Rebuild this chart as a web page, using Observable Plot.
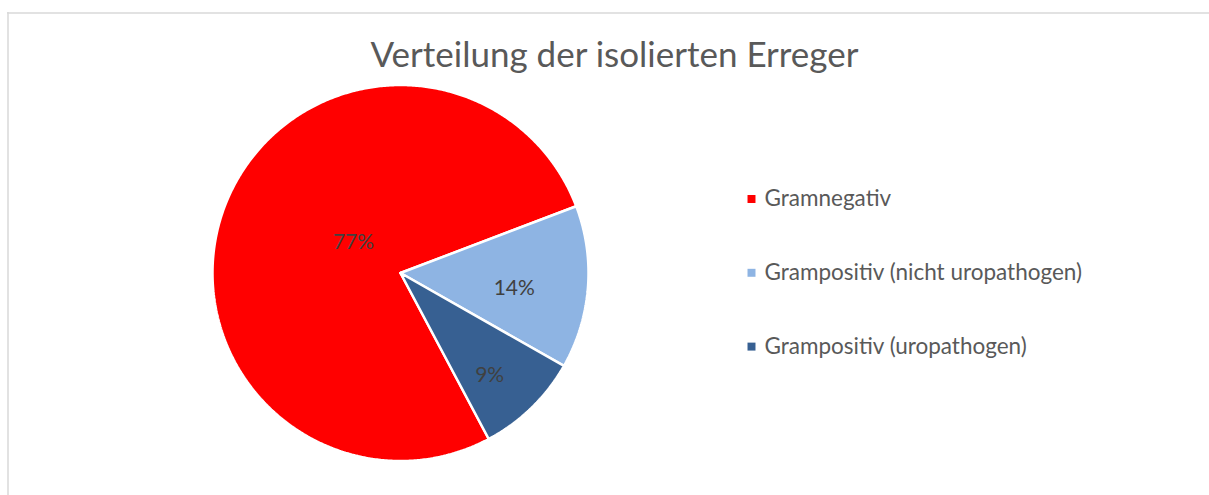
<!DOCTYPE html>
<html>
<head>
<meta charset="utf-8">
<script src="https://cdn.jsdelivr.net/npm/d3@7"></script>
<script src="https://cdn.jsdelivr.net/npm/@observablehq/plot@0.6"></script>
<style>
  html, body { margin: 0; padding: 0; background: #ffffff; }
  #chart svg { display: block; }
</style>
</head>
<body>
<div id="chart"></div>
<script>
// ---- data ----
const title = "Verteilung der isolierten Erreger";
const categories = ["Gramnegativ", "Grampositiv (nicht uropathogen)", "Grampositiv (uropathogen)"];
const values = [77, 14, 9];
const valueLabels = ["77%", "14%", "9%"];
const colors = ["#FF0000", "#8EB4E3", "#376092"];

// ---- layout ----
const W = 1209, H = 495;
const cx = 400, cy = 272.5, R = 188;
const startDeg = 152;                  // first-slice angle (clockwise from 12 o'clock)
const labelRadius = [0.30, 0.61, 0.72];
const labelShift = [13, 3, 3];         // degrees, Excel "best fit" nudge
const legendX = 751, legendTextX = 764, legendY0 = 198.5, legendGap = 73.8;
const font = "Lato, 'Open Sans', sans-serif";

const total = d3.sum(values);
const rad = d => d * Math.PI / 180;
const px = (a, r) => cx + r * Math.sin(rad(a));
const py = (a, r) => cy - r * Math.cos(rad(a));

// slice polygons
const slicePts = [];
const labelPts = [];
let a = startDeg;
values.forEach((v, i) => {
  const span = v / total * 360;
  const a0 = a, a1 = a + span;
  slicePts.push({cat: categories[i], x: cx, y: cy});
  const n = Math.max(2, Math.ceil(span / 0.5));
  for (let k = 0; k <= n; k++) {
    const t = a0 + (a1 - a0) * k / n;
    slicePts.push({cat: categories[i], x: px(t, R), y: py(t, R)});
  }
  slicePts.push({cat: categories[i], x: cx, y: cy});
  const mid = (a0 + a1) / 2 + labelShift[i];
  labelPts.push({label: valueLabels[i], x: px(mid, R * labelRadius[i]), y: py(mid, R * labelRadius[i])});
  a = a1;
});

const legendRows = categories.map((c, i) => ({cat: c, y: legendY0 + i * legendGap}));

const chart = Plot.plot({
  width: W,
  height: H,
  margin: 0,
  x: {domain: [0, W], axis: null},
  y: {domain: [H, 0], axis: null},
  color: {domain: categories, range: colors},
  style: {fontFamily: font, background: "#ffffff"},
  marks: [
    // chart-area border (top and left visible)
    Plot.ruleY([12.5], {x1: 7, x2: W, stroke: "#D9D9D9", strokeWidth: 1.5}),
    Plot.ruleX([7.5], {y1: 12, y2: H, stroke: "#D9D9D9", strokeWidth: 1.5}),
    // pie slices
    Plot.line(slicePts, {x: "x", y: "y", z: "cat", fill: "cat", stroke: "#ffffff", strokeWidth: 2.5, strokeLinejoin: "miter"}),
    // data labels
    Plot.text(labelPts, {x: "x", y: "y", text: "label", fill: "#404040", fontSize: 21, textAnchor: "middle", lineAnchor: "middle"}),
    // title
    Plot.text([title], {x: 614, y: 55, text: d => d, fill: "#595959", fontSize: 35, textAnchor: "middle", lineAnchor: "middle"}),
    // legend
    Plot.dot(legendRows, {x: legendX, y: "y", fill: "cat", symbol: "square", r: 4.5}),
    Plot.text(legendRows, {x: legendTextX, y: "y", text: "cat", fill: "#595959", fontSize: 22.5, textAnchor: "start", lineAnchor: "middle"})
  ]
});
document.getElementById("chart").appendChild(chart);
</script>
</body>
</html>
